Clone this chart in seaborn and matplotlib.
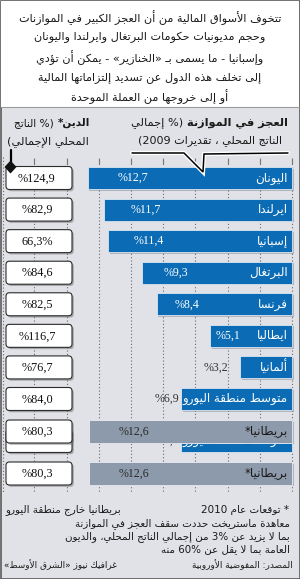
import re
import numpy as np
import pandas as pd
import matplotlib
matplotlib.use("Agg")
import matplotlib.pyplot as plt
import matplotlib.patheffects as pe
from matplotlib.patches import FancyBboxPatch, Polygon, Rectangle
import seaborn as sns

# ---------------- data ----------------
countries = ["اليونان", "ايرلندا", "إسبانيا", "البرتغال", "فرنسا",
             "ايطاليا", "ألمانيا", "متوسط منطقة اليورو"]
deficit = [12.7, 11.7, 11.4, 9.3, 8.4, 5.1, 3.2, 6.9]
deficit_labels = ["%12,7", "%11,7", "%11,4", "%9,3", "%8,4", "%5,1", "%3,2", "%6,9"]
debt_labels = ["%124,9", "%82,9", "66,3%", "%84,6", "%82,5", "%116,7", "%76,7", "%84,0"]
uk_name = "بريطانيا*"
uk_deficit = 12.6
uk_deficit_label = "%12,6"
uk_debt_label = "%80,3"
grid_values = [0, 2, 4, 6, 8, 10, 12, 14, 16]

intro_lines = [
    "تتخوف الأسواق المالية من أن العجز الكبير في الموازنات",
    "وحجم مديونيات حكومات البرتغال وايرلندا واليونان",
    "وإسبانيا - ما يسمى بـ «الخنازير» - يمكن أن تؤدي",
    "إلى تخلف هذه الدول عن تسديد إلتزاماتها المالية",
    "أو إلى خروجها من العملة الموحدة",
]
deficit_title = [("العجز في الموازنة", "bold"), (" (% إجمالي", "normal")]
deficit_sub = "الناتج المحلي ، تقديرات 2009)"
debt_title = [("الدين*", "bold"), (" (% الناتج", "normal")]
debt_sub = "المحلي الإجمالي)"
note_star = "* توقعات عام 2010"
note_uk = "بريطانيا خارج منطقة اليورو"
note_lines = [
    "معاهدة ماستريخت حددت سقف العجز في الموازنة",
    "بما لا يزيد عن 3% من إجمالي الناتج المحلي، والديون",
    "العامة بما لا يقل عن 60% منه",
]
source_text = "المصدر: المفوضية الأوروبية"
credit_text = "غرافيك نيوز «الشرق الأوسط»"

# ---------------- minimal Arabic shaping + RTL ordering ----------------
_DUAL = {0x0626: 0xFE89, 0x0628: 0xFE8F, 0x062A: 0xFE95, 0x062B: 0xFE99,
         0x062C: 0xFE9D, 0x062D: 0xFEA1, 0x062E: 0xFEA5, 0x0633: 0xFEB1,
         0x0634: 0xFEB5, 0x0635: 0xFEB9, 0x0636: 0xFEBD, 0x0637: 0xFEC1,
         0x0638: 0xFEC5, 0x0639: 0xFEC9, 0x063A: 0xFECD, 0x0641: 0xFED1,
         0x0642: 0xFED5, 0x0643: 0xFED9, 0x0644: 0xFEDD, 0x0645: 0xFEE1,
         0x0646: 0xFEE5, 0x0647: 0xFEE9, 0x064A: 0xFEF1}
_RIGHT = {0x0622: 0xFE81, 0x0623: 0xFE83, 0x0624: 0xFE85, 0x0625: 0xFE87,
          0x0627: 0xFE8D, 0x0629: 0xFE93, 0x062F: 0xFEA9, 0x0630: 0xFEAB,
          0x0631: 0xFEAD, 0x0632: 0xFEAF, 0x0648: 0xFEED, 0x0649: 0xFEEF}
_LIG = {"\u0622": 0xFEF5, "\u0623": 0xFEF7, "\u0625": 0xFEF9, "\u0627": 0xFEFB}
_MIRROR = {"(": ")", ")": "(", "«": "»", "»": "«", "[": "]", "]": "["}


def _jtype(tok):
    kind, c = tok
    if kind == "lig":
        return "R"
    o = ord(c)
    if c == "\u0640" or o in _DUAL:
        return "D"
    if o in _RIGHT:
        return "R"
    if c == "\u0621":
        return "U"
    return None


def _shape(s):
    toks, i = [], 0
    while i < len(s):
        if s[i] == "\u0644" and i + 1 < len(s) and s[i + 1] in _LIG:
            toks.append(("lig", s[i + 1]))
            i += 2
        else:
            toks.append(("c", s[i]))
            i += 1
    out = []
    for k, t in enumerate(toks):
        jt = _jtype(t)
        if jt is None:
            out.append(t[1])
            continue
        if jt == "U":
            out.append("\uFE80")
            continue
        if t[1] == "\u0640" and t[0] == "c":
            out.append("\u0640")
            continue
        prev = _jtype(toks[k - 1]) if k > 0 else None
        nxt = _jtype(toks[k + 1]) if k + 1 < len(toks) else None
        jp = prev == "D"
        jn = jt == "D" and nxt in ("D", "R")
        if t[0] == "lig":
            base = _LIG[t[1]]
            out.append(chr(base + (1 if jp else 0)))
            continue
        o = ord(t[1])
        if jt == "R":
            base = _RIGHT[o]
            out.append(chr(base + (1 if jp else 0)))
        else:
            base = _DUAL[o]
            if jp and jn:
                off = 3
            elif jp:
                off = 1
            elif jn:
                off = 2
            else:
                off = 0
            out.append(chr(base + off))
    return "".join(out)


def ar(s):
    sh = _shape(s)
    parts = re.split(r"([0-9][0-9.,]*%?)", sh)
    vis = []
    for idx, p in enumerate(parts):
        if idx % 2 == 1:
            vis.append(p)
        else:
            vis.append("".join(_MIRROR.get(c, c) for c in reversed(p)))
    return "".join(reversed(vis))


# ---------------- style ----------------
sns.set_theme(style="white")
plt.rcParams["font.family"] = ["DejaVu Sans"]
SERIF = ["Liberation Serif", "DejaVu Serif"]
BLUE = "#0b6cb5"
GREY_BAR = "#8d9aab"
PANEL = "#e1e2e7"
GRID = "#6a6a6a"

W, H = 300, 579
fig = plt.figure(figsize=(W / 100, H / 100), dpi=100)

bg = fig.add_axes([0, 0, 1, 1])
bg.set_xlim(0, W)
bg.set_ylim(H, 0)
bg.axis("off")
bg.set_zorder(0)

ax = fig.add_axes([0, 0, 1, 1])
ax.set_zorder(1)

fg = fig.add_axes([0, 0, 1, 1])
fg.set_xlim(0, W)
fg.set_ylim(H, 0)
fg.axis("off")
fg.set_zorder(2)

# layout constants (pixels)
X0_PX = 292.0        # deficit = 0
PX_PER_UNIT = 16.1
ROW0_PX = 178.0
ROW_PX = 31.57


def row_px(pos):
    return ROW0_PX + pos * ROW_PX


# ---------------- background ----------------
bg.add_patch(Rectangle((0.5, 0.5), W - 1, H - 1, facecolor=PANEL,
                       edgecolor="#5a5a5a", lw=1.2))
bg.add_patch(Rectangle((1, 1), W - 2, 106, facecolor="white", edgecolor="none"))
bg.plot([1, W - 1], [107, 107], color="#9a9a9a", lw=0.8)
bg.plot([3, 3], [157, 493], color=GRID, lw=0.8, ls=(0, (1, 2)))

# ---------------- main bars ----------------
df = pd.DataFrame({"country": countries, "deficit": deficit})
sns.barplot(data=df, x="deficit", y="country", orient="h", color=BLUE,
            saturation=1, width=0.70, ax=ax, zorder=3,
            edgecolor="#dbe7f3", linewidth=0.6)
shadow = [pe.SimplePatchShadow(offset=(1.2, -1.2), shadow_rgbFace="#7a7f88", alpha=0.45),
          pe.Normal()]
for p in ax.patches:
    p.set_path_effects(shadow)

n = len(countries)
UK1_POS = 8.03
HIDDEN_POS = 8.33
UK2_POS = 9.36

ax.set_xlim(X0_PX / PX_PER_UNIT, -(W - X0_PX) / PX_PER_UNIT)
ax.set_ylim((H - ROW0_PX) / ROW_PX, -ROW0_PX / ROW_PX)
ax.axis("off")

y_top = (160 - ROW0_PX) / ROW_PX
y_bot = (493 - ROW0_PX) / ROW_PX
ax.vlines(grid_values, y_top, y_bot, colors=GRID, lw=0.8,
          linestyles=(0, (1, 2)), zorder=1)
ax.vlines(grid_values, (158 - ROW0_PX) / ROW_PX, (164 - ROW0_PX) / ROW_PX,
          colors="#777", lw=0.8, zorder=1)

inside = [True, True, True, True, True, True, False, False]
out_gap = [0, 0, 0, 0, 0, 0, 0.75, 0.08]


def row_texts(pos, name, val, vlabel, is_inside, gap, z):
    ax.text(0.25, pos, ar(name), ha="right", va="center", color="white",
            fontsize=8.6, zorder=z)
    if is_inside:
        ax.text(val * 0.778, pos, vlabel, ha="center", va="center",
                color="white", fontsize=8.6, family=SERIF, zorder=z)
    else:
        ax.text(val + gap, pos, vlabel, ha="right", va="center",
                color="#333", fontsize=8.6, family=SERIF, zorder=z)


for i in range(n):
    row_texts(i, countries[i], deficit[i], deficit_labels[i], inside[i], out_gap[i], 5)

# partially hidden duplicate row (as in the original graphic)
ax.barh(HIDDEN_POS, deficit[-1], height=0.70, color=BLUE,
        edgecolor="#dbe7f3", linewidth=0.6, zorder=3)
row_texts(HIDDEN_POS, countries[-1], deficit[-1], deficit_labels[-1], False,
          out_gap[-1], 3.5)

for pos in (UK1_POS, UK2_POS):
    b = ax.barh(pos, uk_deficit, height=0.70, color=GREY_BAR,
                edgecolor="#e9edf2", linewidth=0.6, zorder=6)
    for p in b:
        p.set_path_effects(shadow)
    ax.text(0.25, pos, ar(uk_name), ha="right", va="center", color="#1a1a1a",
            fontsize=8.6, zorder=7)
    ax.text(uk_deficit * 0.778, pos, uk_deficit_label, ha="center", va="center",
            color="#2a2a2a", fontsize=8.6, family=SERIF, zorder=7)

# ---------------- debt boxes ----------------
box_shadow = [pe.SimplePatchShadow(offset=(1.3, -1.3), shadow_rgbFace="#6d6d6d", alpha=0.5),
              pe.Normal()]


def debt_box(pos, label, z, show_text=True):
    yc = row_px(pos)
    bx = FancyBboxPatch((6, yc - 11.5), 66, 23,
                        boxstyle="round,pad=0,rounding_size=3.5",
                        facecolor="white", edgecolor="#2b2b2b", lw=0.8, zorder=z)
    bx.set_path_effects(box_shadow)
    fg.add_patch(bx)
    if show_text:
        fg.text(37, yc + 0.5, label, ha="center", va="center", fontsize=8.8,
                family=SERIF, color="#111", zorder=z + 0.1)


for i in range(n):
    debt_box(i, debt_labels[i], 3)
debt_box(HIDDEN_POS, debt_labels[-1], 3, show_text=False)
debt_box(UK1_POS, uk_debt_label, 4)
debt_box(UK2_POS, uk_debt_label, 4)

# ---------------- texts ----------------
for k, line in enumerate(intro_lines):
    fg.text(150, 18 + k * 19.7, ar(line), ha="center", va="center",
            fontsize=8.1, color="#1a1a1a")

renderer = fig.canvas.get_renderer()


def rtl_segments(x_right, y, segs, size):
    x = x_right
    for txt, weight in segs:
        t = fg.text(x, y, ar(txt), ha="right", va="center", fontsize=size,
                    fontweight=weight, color="#1a1a1a")
        bb = t.get_window_extent(renderer=renderer)
        x -= bb.width * (W / fig.bbox.width)


rtl_segments(288, 123, deficit_title, 8.2)
fg.text(282, 141, ar(deficit_sub), ha="right", va="center", fontsize=8.0,
        color="#1a1a1a")
rtl_segments(90, 123, debt_title, 7.6)
fg.text(48, 142, ar(debt_sub), ha="center", va="center", fontsize=8.2,
        color="#1a1a1a")

# callout pointer
fg.plot([132, 184, 203, 204, 288], [153, 153, 172, 154, 153], color="black",
        lw=1.1, solid_joinstyle="miter",
        path_effects=[pe.Stroke(linewidth=3, foreground="white"), pe.Normal()])
# debt marker
fg.plot([10.5, 10.5], [150, 165], color="black", lw=1.6)
fg.add_patch(Polygon([(10.5, 160.5), (16.5, 167), (10.5, 173.5), (4.5, 167)],
                     closed=True, facecolor="#111", edgecolor="none", zorder=6))

# footer
fg.text(289, 510, ar(note_star), ha="right", va="center", fontsize=7.5, color="#1a1a1a")
fg.text(5, 510, ar(note_uk), ha="left", va="center", fontsize=7.5, color="#1a1a1a")
for k, line in enumerate(note_lines):
    fg.text(290, 524 + k * 12.5, ar(line), ha="right", va="center",
            fontsize=7.4, color="#1a1a1a")
fg.text(293, 565, ar(source_text), ha="right", va="center", fontsize=6.4, color="#1a1a1a")
fg.text(4, 565, ar(credit_text), ha="left", va="center", fontsize=6.4, color="#1a1a1a")

fig.savefig("out.png", dpi=100)
